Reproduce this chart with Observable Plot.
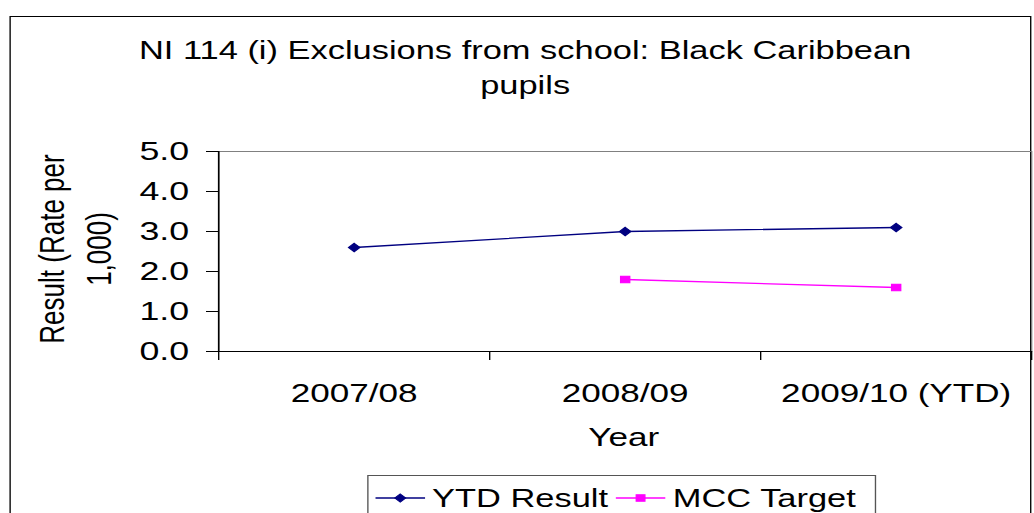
<!DOCTYPE html>
<html>
<head>
<meta charset="utf-8">
<script src="https://cdn.jsdelivr.net/npm/d3@7"></script>
<script src="https://cdn.jsdelivr.net/npm/@observablehq/plot@0.6"></script>
<style>
  html, body { margin: 0; padding: 0; background: #fff; overflow: hidden; width: 1034px; height: 513px; }
  #wrap { position: absolute; left: 0; top: 0; width: 766px; height: 513px; transform: scaleX(1.35); transform-origin: 0 0; font-family: "Liberation Sans", Arial, sans-serif; color: #000; }
  .abs { position: absolute; white-space: nowrap; }
  #outer { left: 7px; top: 16px; width: 757px; height: 600px; border: 1px solid #000; box-sizing: border-box; }
  .title { font-size: 25.5px; text-align: center; width: 700px; left: 39px; line-height: 26px; }
  .ylab { font-size: 26px; transform: translate(-50%, -50%) rotate(-90deg); }
  #legend { left: 272px; top: 475px; width: 377px; height: 60px; border: 1px solid #555; box-sizing: border-box; display: flex; align-items: flex-start; padding-top: 8px; padding-left: 5px; font-size: 25.5px; line-height: 28px; }
  .item { display: flex; align-items: center; margin-right: 6px; }
  .item svg { margin-right: 5px; }
</style>
</head>
<body>
<div id="wrap">
  <div id="outer" class="abs"></div>
  <div id="chart" class="abs" style="left:0;top:0;"></div>
  <div class="abs title" style="top:37px;">NI 114 (i) Exclusions from school: Black Caribbean</div>
  <div class="abs title" style="top:72px;">pupils</div>
  <div class="abs ylab" style="left:38.5px; top:249px;">Result (Rate per</div>
  <div class="abs ylab" style="left:74px; top:249px;">1,000)</div>
  <div class="abs" style="left:0; width:766px; top:422px; text-align:center; font-size:26px; padding-left:158px; box-sizing:border-box;">Year</div>
  <div id="legend" class="abs"></div>
</div>
<script>
// ---- data ----
const years = ["2007/08", "2008/09", "2009/10 (YTD)"];
const ytdResult = [2.6, 3.0, 3.1];
const mccTarget = [null, 1.8, 1.6];
const yTicks = [0, 1, 2, 3, 4, 5];
const seriesNames = ["YTD Result", "MCC Target"];
const seriesColors = ["#000080", "#FF00FF"];
const seriesSymbols = ["diamond2", "square"];

const rows = [];
years.forEach((y, i) => {
  if (ytdResult[i] != null) rows.push({i, year: y, value: ytdResult[i], series: seriesNames[0]});
  if (mccTarget[i] != null) rows.push({i, year: y, value: mccTarget[i], series: seriesNames[1]});
});
const bounds = d3.range(years.length + 1).map(k => k - 0.5);

const chart = Plot.plot({
  width: 766,
  height: 513,
  marginLeft: 161.5,
  marginRight: 2.3,
  marginTop: 151,
  marginBottom: 162,
  style: {fontFamily: "'Liberation Sans', Arial, sans-serif", fontSize: "26px", color: "#000", background: "transparent", overflow: "visible"},
  x: {type: "linear", domain: [-0.5, years.length - 0.5], label: null},
  y: {domain: [0, 5], label: null},
  color: {domain: seriesNames, range: seriesColors},
  symbol: {domain: seriesNames, range: seriesSymbols},
  marks: [
    Plot.frame({stroke: "#808080", strokeWidth: 1}),
    Plot.axisY({ticks: yTicks, tickFormat: d3.format(".1f"), tickSize: 8.9, tickPadding: 13, fontSize: 26.5, label: null, stroke: "#000"}),
    Plot.axisX({ticks: years.map((_, i) => i), tickFormat: i => years[i], tickSize: 0, tickPadding: 32, fontSize: 26, label: null}),
    Plot.axisX({ticks: bounds, tickFormat: () => "", tickSize: 9, label: null, stroke: "#000"}),
    Plot.ruleX([-0.5], {stroke: "#000", strokeWidth: 1.2}),
    Plot.ruleY([0], {stroke: "#000", strokeWidth: 1.2}),
    Plot.line(rows, {x: "i", y: "value", z: "series", stroke: "series", strokeWidth: 1.3}),
    Plot.dot(rows, {x: "i", y: "value", symbol: "series", fill: "series", stroke: "series", strokeWidth: 1, r: 3.8})
  ]
});
document.getElementById("chart").appendChild(chart);

// ---- legend (line + marker swatches) ----
const legend = d3.select("#legend");
seriesNames.forEach((name, k) => {
  const item = legend.append("div").attr("class", "item");
  const svg = item.append("svg").attr("width", 37).attr("height", 16);
  svg.append("line").attr("x1", 0).attr("x2", 37).attr("y1", 8).attr("y2", 8)
    .attr("stroke", seriesColors[k]).attr("stroke-width", 1.3);
  const sym = k === 0 ? d3.symbolDiamond2 : d3.symbolSquare;
  svg.append("path").attr("transform", "translate(18.5,8)")
    .attr("d", d3.symbol(sym, 3.6 * 3.6 * Math.PI)())
    .attr("fill", seriesColors[k]).attr("stroke", seriesColors[k]).attr("stroke-width", 1);
  item.append("span").text(name);
});
</script>
</body>
</html>
